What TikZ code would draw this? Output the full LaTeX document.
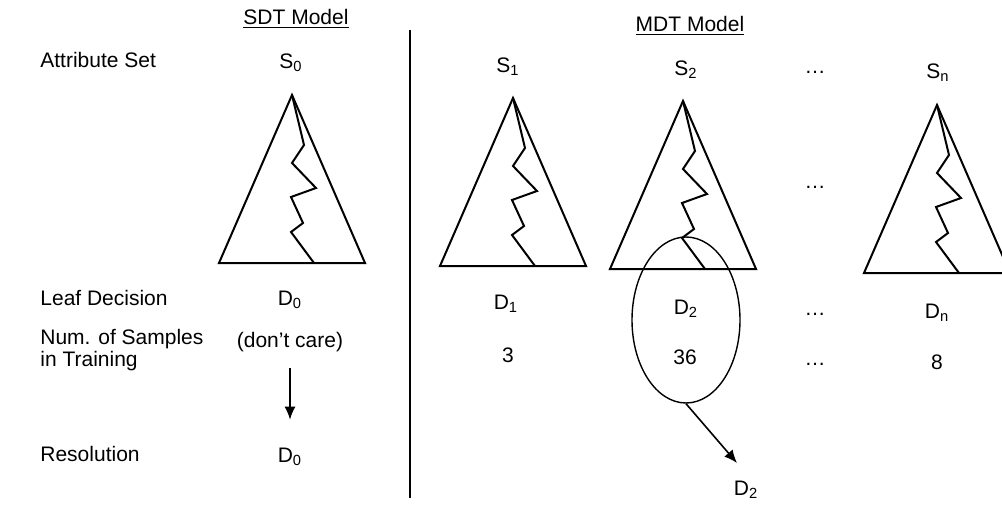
\documentclass[tikz,border=0pt]{standalone}
\usepackage{fontspec}
\setmainfont{Liberation Sans}
\usetikzlibrary{arrows.meta,shapes.geometric}

% decision tree with one path from root to leaf, apex at (#1,#2)
\newcommand{\dtree}[2]{%
  \draw[tree] (#1,#2) -- ++(-73,168) -- ++(146,0) -- cycle;
  \draw[tree] (#1,#2) -- ++(12,50) -- ++(-12,18) -- ++(24,25) -- ++(-25,9)
    -- ++(12,26) -- ++(-12,9) -- ++(23,31);
}

\begin{document}
\begin{tikzpicture}[x=0.5pt, y=-0.5pt, font=\fontsize{10.5}{11}\selectfont]
        \tikzstyle{tree} = [line width=1pt, line join=miter]
        \tikzstyle{rowlabel} = [anchor=west, inner sep=0pt, align=left]
        \tikzstyle{cell} = [inner sep=0pt]
        \tikzstyle{line} = [draw, line width=0.8pt, -{Latex[length=6.5pt, width=5.5pt]}]

        \useasboundingbox (0,0) rectangle (1002,504);

        % headings
        \node [cell] (sdt) at (296,19) {\underline{SDT Model}};
        \node [cell] (mdt) at (690,26) {\underline{MDT Model}};

        % row labels
        \node [rowlabel] (attr) at (40,60) {Attribute Set};
        \node [rowlabel] (leaf) at (40,298) {Leaf Decision};
        \node [rowlabel] (num) at (40,350) {Num. of Samples\\in Training};
        \node [rowlabel] (reso) at (40,454) {Resolution};

        % separator
        \draw [line width=0.8pt] (410,30) -- (410,498);

        % attribute sets
        \node [cell] (s0) at (291,63) {S\textsubscript{0}};
        \node [cell] (s1) at (508,67) {S\textsubscript{1}};
        \node [cell] (s2) at (686,70) {S\textsubscript{2}};
        \node [cell] (sdots) at (815,72) {\dots};
        \node [cell] (sn) at (938,73) {S\textsubscript{n}};

        % trees
        \dtree{292}{95}
        \dtree{513}{98}
        \dtree{683}{101}
        \dtree{937}{105}
        \node [cell] (tdots) at (815,187) {\dots};

        % leaf decisions
        \node [cell] (d0) at (290,300) {D\textsubscript{0}};
        \node [cell] (d1) at (506,304) {D\textsubscript{1}};
        \node [cell] (d2) at (686,309) {D\textsubscript{2}};
        \node [cell] (ddots) at (815,314) {\dots};
        \node [cell] (dn) at (937,313) {D\textsubscript{n}};

        % number of samples
        \node [cell] (dc) at (290,342) {(don't care)};
        \node [cell] (n1) at (508,355) {3};
        \node [cell] (n2) at (685,357) {36};
        \node [cell] (ndots) at (815,364) {\dots};
        \node [cell] (nn) at (937,362) {8};

        % resolution
        \node [cell] (r0) at (290,457) {D\textsubscript{0}};
        \node [cell] (r2) at (746,490) {D\textsubscript{2}};

        \node [ellipse, draw, line width=0.7pt, minimum width=54pt, minimum height=83pt, inner sep=0pt] (pick) at (686,320) {};
        \coordinate (tip) at (737,463);

        \path [line, shorten <=8pt, shorten >=14pt] (dc) -- (r0);
        \path [line] (pick.south) -- (tip);
    \end{tikzpicture}
\end{document}
